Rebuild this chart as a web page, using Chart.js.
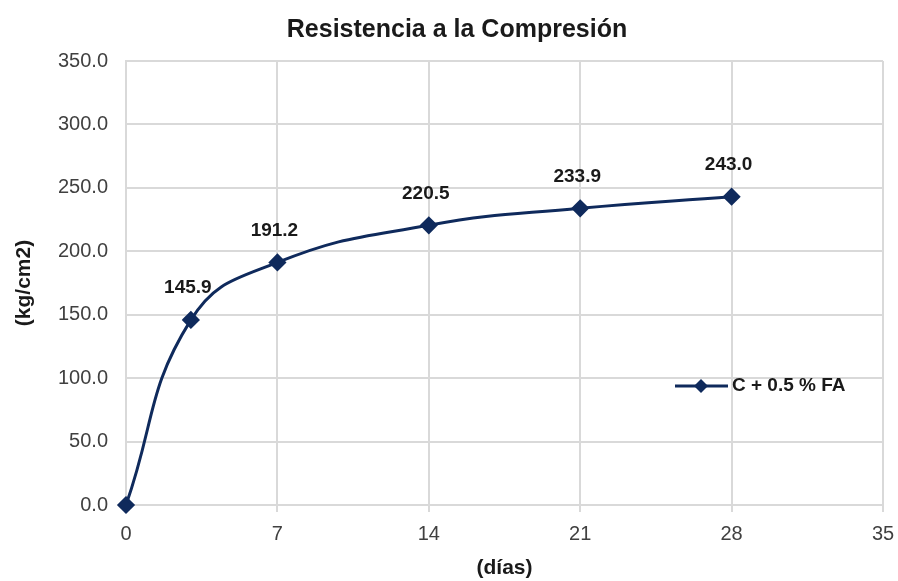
<!DOCTYPE html>
<html>
<head>
<meta charset="utf-8">
<script src="https://cdn.jsdelivr.net/npm/chart.js@4.4.0/dist/chart.umd.min.js"></script>
<style>
  html, body { margin: 0; padding: 0; background: #fff; }
  #wrap { width: 898px; height: 581px; }
</style>
</head>
<body>
<div id="wrap"><canvas id="chart" width="898" height="581"></canvas></div>
<script>
(function () {
    // ── Datos ──────────────────────────────────────────
    const dias = [0, 3, 7, 14, 21, 28];
    const resistencia = [0, 145.9, 191.2, 220.5, 233.9, 243.0];
    const serieNombre = 'C + 0.5 % FA';

    const FONT = "'Liberation Sans Narrow','Arial Narrow','Liberation Sans',sans-serif";
    const NAVY = '#0f2a5c';
    const GRID = '#d9d9d9';

    // ── Etiquetas de valor sobre cada punto ────────────
    const valueLabels = {
        id: 'valueLabels',
        afterDatasetsDraw(chart) {
            const ctx = chart.ctx;
            const meta = chart.getDatasetMeta(0);
            ctx.save();
            ctx.font = 'bold 19px ' + FONT;
            ctx.fillStyle = '#1a1a1a';
            ctx.textAlign = 'center';
            ctx.textBaseline = 'middle';
            meta.data.forEach((pt, i) => {
                if (i === 0) return;
                ctx.fillText(resistencia[i].toFixed(1), pt.x - 3, pt.y - 32);
            });
            ctx.restore();
        }
    };

    // ── Leyenda dentro del área ────────────────────────
    const innerLegend = {
        id: 'innerLegend',
        afterDraw(chart) {
            const ctx = chart.ctx;
            const y = 386;
            ctx.save();
            ctx.strokeStyle = NAVY;
            ctx.lineWidth = 3;
            ctx.beginPath();
            ctx.moveTo(675, y);
            ctx.lineTo(728, y);
            ctx.stroke();
            ctx.fillStyle = NAVY;
            ctx.beginPath();
            ctx.moveTo(701, y - 7);
            ctx.lineTo(708, y);
            ctx.lineTo(701, y + 7);
            ctx.lineTo(694, y);
            ctx.closePath();
            ctx.fill();
            ctx.font = 'bold 19px ' + FONT;
            ctx.fillStyle = '#1a1a1a';
            ctx.textBaseline = 'middle';
            ctx.fillText(serieNombre, 732, y);
            ctx.restore();
        }
    };

    // ── Título principal ───────────────────────────────
    const mainTitle = {
        id: 'mainTitle',
        afterDraw(chart) {
            const ctx = chart.ctx;
            ctx.save();
            ctx.font = 'bold 25px ' + FONT;
            ctx.fillStyle = '#1a1a1a';
            ctx.textAlign = 'center';
            ctx.textBaseline = 'middle';
            ctx.fillText('Resistencia a la Compresión', 457, 30);
            ctx.restore();
        }
    };

    new Chart(document.getElementById('chart'), {
        type: 'line',
        data: {
            datasets: [{
                label: serieNombre,
                data: dias.map((d, i) => ({ x: d, y: resistencia[i] })),
                borderColor: NAVY,
                backgroundColor: NAVY,
                borderWidth: 3,
                tension: 0.45,
                pointStyle: 'rectRot',
                pointRadius: 7,
                pointHoverRadius: 7,
                fill: false,
                clip: false
            }]
        },
        options: {
            responsive: false,
            animation: false,
            layout: { padding: { top: 61, right: 15, bottom: 0, left: 0 } },
            plugins: {
                legend: { display: false },
                title: { display: false },
                tooltip: { enabled: false }
            },
            scales: {
                x: {
                    type: 'linear',
                    min: 0,
                    max: 35,
                    ticks: {
                        stepSize: 7,
                        color: '#404040',
                        font: { family: FONT, size: 20 },
                        padding: 10
                    },
                    grid: { color: GRID, lineWidth: 2, tickLength: 7, tickColor: GRID },
                    border: { color: GRID, width: 2 },
                    title: {
                        display: true,
                        text: '(días)',
                        color: '#1a1a1a',
                        font: { family: FONT, size: 21, weight: 'bold' },
                        padding: { top: 0, bottom: 0 }
                    },
                    afterFit: s => { s.height = 76; s.paddingRight = 0; }
                },
                y: {
                    min: 0,
                    max: 350,
                    ticks: {
                        stepSize: 50,
                        color: '#404040',
                        font: { family: FONT, size: 20 },
                        padding: 18,
                        callback: v => Number(v).toFixed(1)
                    },
                    grid: { color: GRID, lineWidth: 2, drawTicks: false },
                    border: { color: GRID, width: 2 },
                    title: {
                        display: true,
                        text: '(kg/cm2)',
                        color: '#1a1a1a',
                        font: { family: FONT, size: 21, weight: 'bold' },
                        padding: { top: 12, bottom: 0 }
                    },
                    afterFit: s => { s.width = 126; s.paddingTop = 0; }
                }
            }
        },
        plugins: [valueLabels, innerLegend, mainTitle]
    });
})();
</script>
</body>
</html>
